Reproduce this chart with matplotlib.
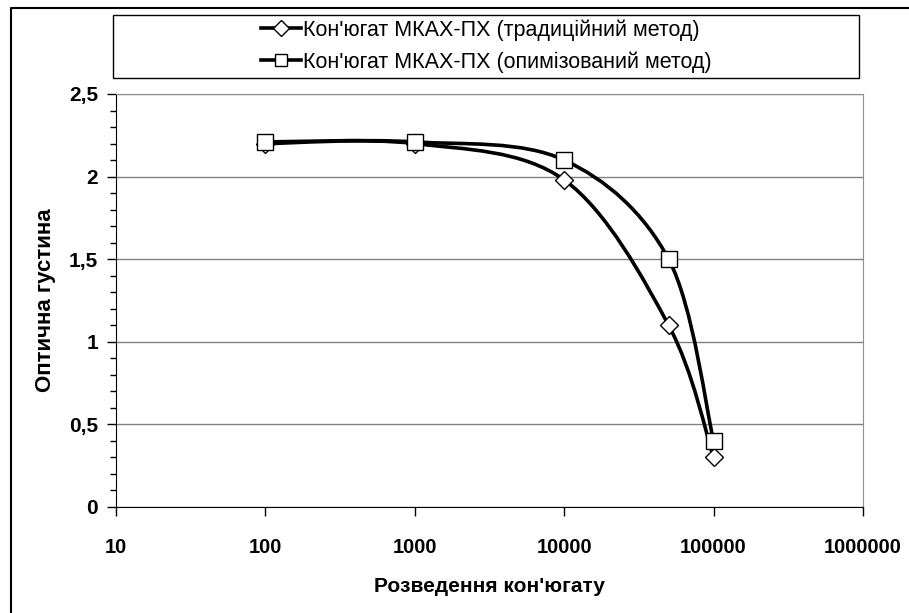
import numpy as np
import matplotlib
matplotlib.use("Agg")
import matplotlib.pyplot as plt
from matplotlib.path import Path
from matplotlib.patches import PathPatch, Rectangle
from matplotlib.lines import Line2D
from matplotlib.ticker import FixedLocator, FuncFormatter, NullLocator

plt.rcParams['font.family'] = ['Liberation Sans', 'DejaVu Sans']

# data
dilution = [100, 1000, 10000, 50000, 100000]
od_traditional = [2.2, 2.2, 1.98, 1.1, 0.3]
od_optimized = [2.21, 2.21, 2.1, 1.5, 0.4]
labels = ["Кон'югат МКАХ-ПХ (традиційний метод)",
          "Кон'югат МКАХ-ПХ (опимізований метод)"]
x_ticks = [10, 100, 1000, 10000, 100000, 1000000]
y_ticks = [0, 0.5, 1, 1.5, 2, 2.5]

W, H = 909, 613


def smooth_path(xs, ys):
    """Excel-like smoothed line: Catmull-Rom bezier built in log-x space"""
    lx = np.log10(xs)
    pts = np.column_stack([lx, ys])
    n = len(pts)
    verts = [pts[0]]
    codes = [Path.MOVETO]
    for i in range(n - 1):
        p0 = pts[i - 1] if i > 0 else pts[i]
        p1 = pts[i]
        p2 = pts[i + 1]
        p3 = pts[i + 2] if i + 2 < n else pts[i + 1]
        c1 = p1 + (p2 - p0) / 6.0
        c2 = p2 - (p3 - p1) / 6.0
        verts += [c1, c2, p2]
        codes += [Path.CURVE4] * 3
    verts = np.array(verts)
    verts[:, 0] = 10 ** verts[:, 0]
    return Path(verts, codes)


fig = plt.figure(figsize=(W / 100, H / 100), dpi=100)
ax = fig.add_axes([116 / W, (H - 507) / H, (863 - 116) / W, (507 - 94) / H])

ax.set_xscale('log')
ax.set_xlim(10, 1000000)
ax.set_ylim(0, 2.5)

for ys, mk, ms in [(od_traditional, 'D', 9), (od_optimized, 's', 12)]:
    ax.add_patch(PathPatch(smooth_path(dilution, ys), fill=False,
                           edgecolor='black', lw=2.6, zorder=3,
                           capstyle='round', joinstyle='round'))
    ax.plot(dilution, ys, linestyle='none', marker=mk, ms=ms,
            mfc='white', mec='black', mew=1, zorder=4)

ax.xaxis.set_major_locator(FixedLocator(x_ticks))
ax.xaxis.set_minor_locator(NullLocator())
ax.xaxis.set_major_formatter(FuncFormatter(lambda v, p: f"{int(round(v))}"))
ax.yaxis.set_major_locator(FixedLocator(y_ticks))
ax.yaxis.set_minor_locator(FixedLocator(np.arange(0, 2.51, 0.1)))
ax.yaxis.set_major_formatter(
    FuncFormatter(lambda v, p: f"{v:g}".replace('.', ',')))

ax.tick_params(axis='x', which='major', direction='out', length=6.5,
               width=1, pad=16, labelsize=14.5)
ax.tick_params(axis='y', which='major', direction='out', length=6.5,
               width=1, pad=6.5, labelsize=15)
ax.tick_params(axis='y', which='minor', direction='out', length=4.3, width=1)
for lab in ax.get_xticklabels() + ax.get_yticklabels():
    lab.set_fontweight('bold')

ax.grid(axis='y', which='major', color='#808080', lw=1)
ax.set_axisbelow(True)
for s in ['top', 'right']:
    ax.spines[s].set_color('#909090')
for s in ['left', 'bottom']:
    ax.spines[s].set_color('black')

ax.set_xlabel("Розведення кон'югату", fontsize=15, fontweight='bold',
              labelpad=14)
ax.set_ylabel("Оптична густина", fontsize=16, fontweight='bold',
              labelpad=9)

# legend box
fig.patches.append(Rectangle((113 / W, 1 - 78 / H), (859 - 113) / W,
                             (78 - 15) / H, transform=fig.transFigure,
                             fill=False, edgecolor='black', lw=1))
handles = [Line2D([], [], color='black', lw=2.6, marker='D', ms=8,
                  mfc='white', mec='black', mew=1),
           Line2D([], [], color='black', lw=2.6, marker='s', ms=9,
                  mfc='white', mec='black', mew=1)]
fig.legend(handles, labels, loc='center',
           bbox_to_anchor=(486 / W, 1 - 46 / H), frameon=False,
           fontsize=15.5, handlelength=1.85, handletextpad=0.1,
           labelspacing=0.5, borderpad=0)

# outer chart border (cropped on right and bottom)
fig.add_artist(Line2D([11 / W, 11 / W, 1], [0, 1 - 8 / H, 1 - 8 / H],
                      transform=fig.transFigure, color='black', lw=1.5))

fig.savefig('out.png', dpi=100)
